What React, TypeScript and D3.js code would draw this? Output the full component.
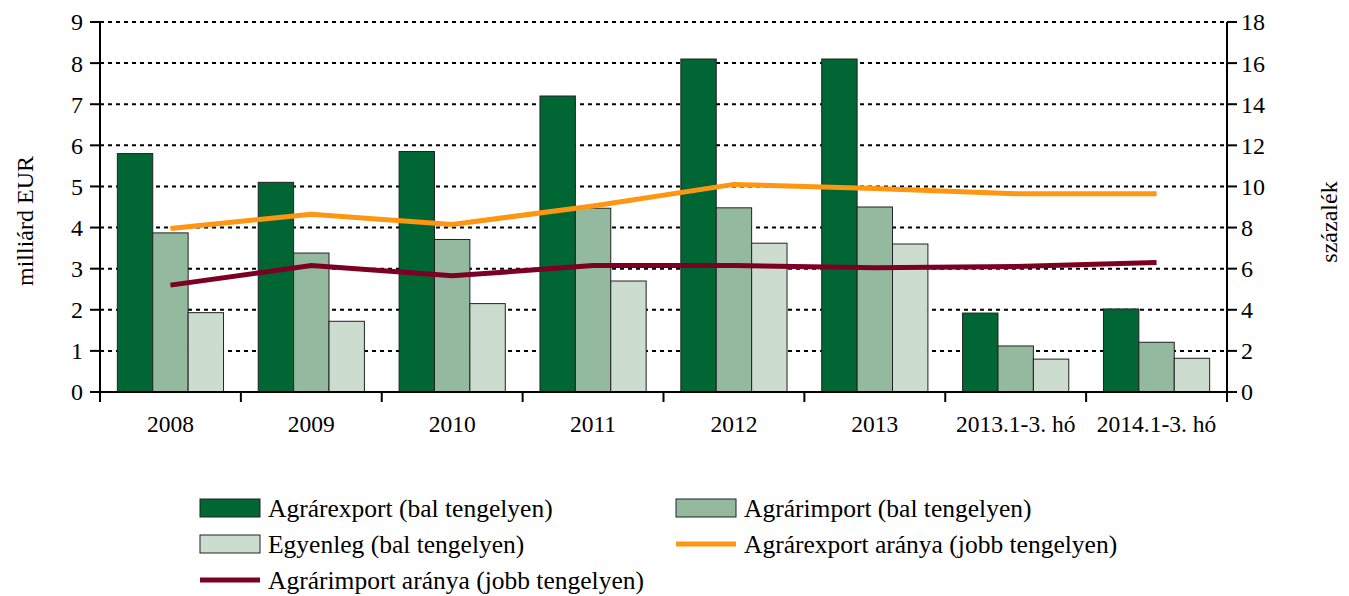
import React from "react";
import * as d3 from "d3";

const categories = ["2008", "2009", "2010", "2011", "2012", "2013", "2013.1-3. hó", "2014.1-3. hó"];
const exportValues = [5.8, 5.1, 5.85, 7.2, 8.1, 8.1, 1.92, 2.02];
const importValues = [3.87, 3.38, 3.71, 4.47, 4.48, 4.5, 1.12, 1.21];
const balanceValues = [1.93, 1.72, 2.15, 2.7, 3.62, 3.6, 0.8, 0.82];
const exportShare = [7.95, 8.65, 8.15, 9.05, 10.1, 9.9, 9.65, 9.65];
const importShare = [5.2, 6.15, 5.65, 6.15, 6.15, 6.05, 6.1, 6.3];
const leftTicks = [0, 1, 2, 3, 4, 5, 6, 7, 8, 9];
const rightTicks = [0, 2, 4, 6, 8, 10, 12, 14, 16, 18];

const axisTxt = { fontFamily: "Liberation Serif", fontSize: 24 };
const catTxt = { fontFamily: "Liberation Serif", fontSize: 23.5 };
const legTxt = { fontFamily: "Liberation Serif", fontSize: 25.5 };

const left = 100, right = 1227, top = 22, bottom = 392;

export default function App() {
  const x = d3.scaleBand().domain(categories).range([left, right]);
  const bars = d3.scaleBand().domain(["e", "i", "b"]).range([0, x.bandwidth()]).paddingOuter(0.49).paddingInner(0);
  const y = d3.scaleLinear().domain([0, 9]).range([bottom, top]);
  const y2 = d3.scaleLinear().domain([0, 18]).range([bottom, top]);

  const series = [
    { key: "e", values: exportValues, color: "#006633" },
    { key: "i", values: importValues, color: "#93BA9E" },
    { key: "b", values: balanceValues, color: "#CCDDD0" },
  ];

  const line = d3.line<number>()
    .x((d, i) => (x(categories[i]) as number) + x.bandwidth() / 2)
    .y(d => y2(d));

  const legend = [
    { label: "Agrárexport (bal tengelyen)", color: "#006633", type: "rect", lx: 200, ly: 508 },
    { label: "Agrárimport (bal tengelyen)", color: "#93BA9E", type: "rect", lx: 676, ly: 508 },
    { label: "Egyenleg (bal tengelyen)", color: "#CCDDD0", type: "rect", lx: 200, ly: 544 },
    { label: "Agrárexport aránya (jobb tengelyen)", color: "#FF9612", type: "line", lx: 676, ly: 544 },
    { label: "Agrárimport aránya (jobb tengelyen)", color: "#7B0023", type: "line", lx: 200, ly: 580 },
  ];

  return (
    <svg width={1349} height={596} style={{ position: "absolute", left: 0, top: 0, background: "#fff" }}>
      {/* grid */}
      {leftTicks.slice(1).map(t => (
        <line key={"g" + t} x1={left} x2={right} y1={y(t)} y2={y(t)}
          stroke="#000" strokeWidth={2} strokeDasharray="4,4" />
      ))}

      {/* bars */}
      {series.map(s => s.values.map((v, i) => (
        <rect key={s.key + i}
          x={(x(categories[i]) as number) + (bars(s.key) as number)}
          width={bars.bandwidth()}
          y={y(v)} height={bottom - y(v)}
          fill={s.color} stroke="#222" strokeWidth={1} />
      )))}

      {/* lines */}
      <path d={line(exportShare) as string} fill="none" stroke="#FF9612" strokeWidth={5} />
      <path d={line(importShare) as string} fill="none" stroke="#7B0023" strokeWidth={5} />

      {/* axes */}
      <line x1={left} x2={left} y1={top} y2={bottom + 10} stroke="#000" strokeWidth={2} />
      <line x1={right} x2={right} y1={top} y2={bottom + 10} stroke="#000" strokeWidth={2} />
      <line x1={left} x2={right} y1={bottom} y2={bottom} stroke="#000" strokeWidth={2} />

      {leftTicks.map(t => (
        <g key={"l" + t}>
          <line x1={left - 10} x2={left} y1={y(t)} y2={y(t)} stroke="#000" strokeWidth={2} />
          <text x={left - 17} y={y(t)} dy="0.35em" textAnchor="end" style={axisTxt}>{t}</text>
        </g>
      ))}
      {rightTicks.map(t => (
        <g key={"r" + t}>
          <line x1={right} x2={right + 10} y1={y2(t)} y2={y2(t)} stroke="#000" strokeWidth={2} />
          <text x={right + 14} y={y2(t)} dy="0.35em" textAnchor="start" style={axisTxt}>{t}</text>
        </g>
      ))}
      {categories.slice(1).map(c => (
        <line key={"t" + c} x1={x(c)} x2={x(c)} y1={bottom} y2={bottom + 10} stroke="#000" strokeWidth={2} />
      ))}
      {categories.map(c => (
        <text key={"c" + c} x={(x(c) as number) + x.bandwidth() / 2} y={432} textAnchor="middle" style={catTxt}>{c}</text>
      ))}

      <text transform="translate(33,221) rotate(-90)" textAnchor="middle" style={axisTxt}>milliárd EUR</text>
      <text transform="translate(1337,222) rotate(-90)" textAnchor="middle" style={axisTxt}>százalék</text>

      {/* legend */}
      {legend.map(l => (
        <g key={l.label}>
          {l.type === "rect"
            ? <rect x={l.lx} y={l.ly - 9} width={60} height={18} fill={l.color} stroke="#222" strokeWidth={1} />
            : <line x1={l.lx} x2={l.lx + 60} y1={l.ly} y2={l.ly} stroke={l.color} strokeWidth={5} />}
          <text x={l.lx + 68} y={l.ly + 9} style={legTxt}>{l.label}</text>
        </g>
      ))}
    </svg>
  );
}
